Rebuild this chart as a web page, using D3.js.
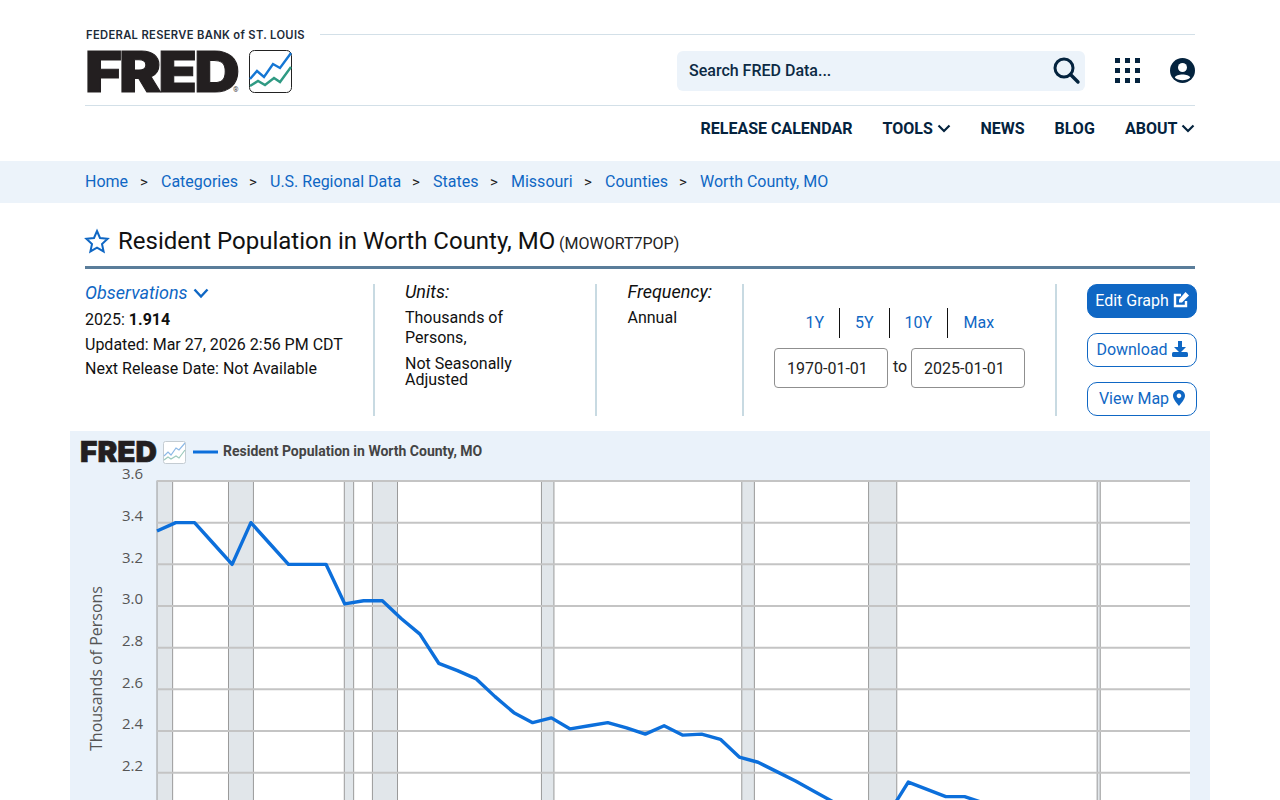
<!DOCTYPE html>
<html>
<head>
<meta charset="utf-8">
<title>Resident Population in Worth County, MO (MOWORT7POP) | FRED</title>
<script src="https://cdn.jsdelivr.net/npm/d3@7"></script>
<style>
    html, body { margin: 0; padding: 0; width: 1280px; height: 800px; overflow: hidden; background: #fff; }
    body { font-family: Roboto, sans-serif; font-size: 16px; color: #111; position: relative; }
    .a { position: absolute; white-space: nowrap; line-height: 20px; }
    .link { color: #0f67c4; }
    .nav { color: #04233e; font-weight: 700; top: 119px; }
    .rule { position: absolute; background: #d3e0e8; height: 1px; }
    .vbar { position: absolute; width: 2px; top: 284px; height: 132px; background: #c8dae2; }
    .crumb { top: 172px; }
    .sep { top: 172px; font-size: 15px; color: #222; }
    .datebox { position: absolute; top: 348px; height: 38px; width: 100px; padding-left: 12px; border: 1px solid #8f8f8f; border-radius: 4px; line-height: 40px; color: #222; }
    .btn { position: absolute; left: 1087px; width: 108px; border: 1px solid #0f67c4; border-radius: 10px; color: #0f67c4; text-align: center; line-height: 32px; height: 32px; }
    .tick-sep { position: absolute; top: 308px; height: 30px; width: 1px; background: #111; }
    #panel { position: absolute; left: 70px; top: 431px; width: 1140px; height: 460px; background: #eaf2fa; }
    #chart { position: absolute; left: 0; top: 0; }
    svg.icon { position: absolute; overflow: visible; }
</style>
</head>
<body>

<!-- header -->
<div class="a" style="left:86px;top:25px;font-family:Inter,sans-serif;font-size:11.2px;font-weight:600;color:#1d2b38;letter-spacing:.33px">FEDERAL RESERVE BANK of ST. LOUIS</div>
<div class="rule" style="left:320px;top:34px;width:875px"></div>
<div class="a" style="left:85px;top:72px;font-family:Inter,sans-serif;font-size:56px;font-weight:900;color:#231f20;letter-spacing:-2.6px;line-height:0;-webkit-text-stroke:1px #231f20;transform:scaleX(1.13);transform-origin:left center">FRED</div>
<div class="a" style="left:233px;top:80px;font-size:7px;color:#444">®</div>
<svg class="icon" style="left:249px;top:50px" width="44" height="44" viewBox="0 0 44 44">
    <rect x="0.5" y="0.5" width="42" height="42" rx="5" fill="#fff" stroke="#222"/>
    <polyline points="1,29 8,21 15,27 24,14 31,18 42,3" fill="none" stroke="#1476d4" stroke-width="2.4"/>
    <polyline points="1,36 9,31 16,35 25,28 31,32 42,17" fill="none" stroke="#2f9a83" stroke-width="2.4"/>
</svg>
<div class="rule" style="left:85px;top:105px;width:1110px"></div>

<div style="position:absolute;left:677px;top:51px;width:408px;height:40px;background:#ecf3fa;border-radius:6px"></div>
<div class="a" style="left:689px;top:61px;font-weight:500;color:#0c2a44">Search FRED Data...</div>
<svg class="icon" style="left:1053px;top:57px" width="26" height="26" viewBox="0 0 26 26">
    <circle cx="11" cy="11" r="9" fill="none" stroke="#04233e" stroke-width="3"/>
    <line x1="17.5" y1="17.5" x2="25" y2="25" stroke="#04233e" stroke-width="3.4" stroke-linecap="round"/>
</svg>
<svg class="icon" style="left:1115px;top:58px" width="26" height="26" viewBox="0 0 26 26" fill="#04233e">
    <rect x="0" y="0" width="5" height="5"/><rect x="10" y="0" width="5" height="5"/><rect x="20" y="0" width="5" height="5"/>
    <rect x="0" y="10" width="5" height="5"/><rect x="10" y="10" width="5" height="5"/><rect x="20" y="10" width="5" height="5"/>
    <rect x="0" y="20" width="5" height="5"/><rect x="10" y="20" width="5" height="5"/><rect x="20" y="20" width="5" height="5"/>
</svg>
<svg class="icon" style="left:1170px;top:58px" width="25" height="25" viewBox="0 0 25 25">
    <circle cx="12.5" cy="12.5" r="12.5" fill="#04233e"/>
    <circle cx="12.5" cy="9.5" r="4.5" fill="#fff"/>
    <path d="M4.8 19.5 C6 15.5 19 15.5 20.2 19.5 C17 23 8 23 4.8 19.5Z" fill="#fff"/>
</svg>

<div class="a nav" style="left:700.5px">RELEASE CALENDAR</div>
<div class="a nav" style="left:882.5px">TOOLS</div>
<svg class="icon" style="left:937px;top:124px" width="14" height="9" viewBox="0 0 14 9"><polyline points="1.5,1.5 7,7 12.5,1.5" fill="none" stroke="#04233e" stroke-width="2.2"/></svg>
<div class="a nav" style="left:980.5px">NEWS</div>
<div class="a nav" style="left:1054.5px">BLOG</div>
<div class="a nav" style="left:1125px">ABOUT</div>
<svg class="icon" style="left:1181px;top:124px" width="14" height="9" viewBox="0 0 14 9"><polyline points="1.5,1.5 7,7 12.5,1.5" fill="none" stroke="#04233e" stroke-width="2.2"/></svg>

<!-- breadcrumbs -->
<div style="position:absolute;left:0;top:161px;width:1280px;height:42px;background:#ecf3fa"></div>
<div class="a link crumb" style="left:85px">Home</div>
<div class="a sep" style="left:140px">&gt;</div>
<div class="a link crumb" style="left:161px">Categories</div>
<div class="a sep" style="left:249px">&gt;</div>
<div class="a link crumb" style="left:270px">U.S. Regional Data</div>
<div class="a sep" style="left:412px">&gt;</div>
<div class="a link crumb" style="left:433px">States</div>
<div class="a sep" style="left:490px">&gt;</div>
<div class="a link crumb" style="left:511px">Missouri</div>
<div class="a sep" style="left:584px">&gt;</div>
<div class="a link crumb" style="left:605px">Counties</div>
<div class="a sep" style="left:679px">&gt;</div>
<div class="a link crumb" style="left:700px">Worth County, MO</div>

<!-- title -->
<svg class="icon" style="left:85px;top:229px" width="24" height="24" viewBox="0 0 24 24">
    <polygon points="12,2 15,9 22.6,9.8 17,15 18.6,22.4 12,18.6 5.4,22.4 7,15 1.4,9.8 9,9" fill="none" stroke="#0f67c4" stroke-width="2"/>
</svg>
<div class="a" style="left:118px;top:231px;font-size:24px;color:#111">Resident Population in Worth County, MO</div>
<div class="a" style="left:559px;top:234px;font-size:16px;color:#222">(MOWORT7POP)</div>
<div style="position:absolute;left:85px;top:266px;width:1110px;height:3px;background:#5a7d9a"></div>

<!-- notes -->
<div class="a link" style="left:85px;top:283px;font-size:18px;font-style:italic">Observations</div>
<svg class="icon" style="left:193px;top:288px" width="16" height="11" viewBox="0 0 16 11"><polyline points="1.5,1.5 8,8.5 14.5,1.5" fill="none" stroke="#0f67c4" stroke-width="2.4"/></svg>
<div class="a" style="left:85px;top:310px">2025: <b>1.914</b></div>
<div class="a" style="left:85px;top:335px">Updated: Mar 27, 2026 2:56 PM CDT</div>
<div class="a" style="left:85px;top:359px">Next Release Date: Not Available</div>
<div class="vbar" style="left:373px"></div>

<div class="a" style="left:405px;top:282px;font-size:18px;font-style:italic">Units:</div>
<div class="a" style="left:405px;top:308px">Thousands of</div>
<div class="a" style="left:405px;top:328px">Persons,</div>
<div class="a" style="left:405px;top:354px">Not Seasonally</div>
<div class="a" style="left:405px;top:370px">Adjusted</div>
<div class="vbar" style="left:595px"></div>

<div class="a" style="left:627.5px;top:282px;font-size:18px;font-style:italic">Frequency:</div>
<div class="a" style="left:627.5px;top:308px">Annual</div>
<div class="vbar" style="left:742px"></div>

<div class="a link" style="left:805.5px;top:313px">1Y</div>
<div class="tick-sep" style="left:839px"></div>
<div class="a link" style="left:855px;top:313px">5Y</div>
<div class="tick-sep" style="left:889px"></div>
<div class="a link" style="left:904.5px;top:313px">10Y</div>
<div class="tick-sep" style="left:947px"></div>
<div class="a link" style="left:963.5px;top:313px">Max</div>
<div class="datebox" style="left:774px">1970-01-01</div>
<div class="a" style="left:893px;top:357px;color:#222">to</div>
<div class="datebox" style="left:911px">2025-01-01</div>
<div class="vbar" style="left:1055px"></div>

<div class="btn" style="top:284px;background:#0f67c4;color:#fff;text-indent:-20px">Edit Graph</div>
<svg class="icon" style="left:1173px;top:291px" width="17" height="17" viewBox="0 0 17 17">
    <path d="M13 10 V15 H2 V4 H8" fill="none" stroke="#fff" stroke-width="2.4"/>
    <path d="M6 8.5 L12.5 1 L16 4.5 L9 11.5 L6 11.5Z" fill="#fff"/>
</svg>
<div class="btn" style="top:333px;text-indent:-20px">Download</div>
<svg class="icon" style="left:1172px;top:341px" width="16" height="16" viewBox="0 0 16 16" fill="#0f67c4">
    <path d="M6 0 H10 V6 H14 L8 12 L2 6 H6Z"/><rect x="0" y="11" width="16" height="5" rx="1.5"/>
</svg>
<div class="btn" style="top:382px;text-indent:-16px">View Map</div>
<svg class="icon" style="left:1173px;top:390px" width="12" height="16" viewBox="0 0 12 16">
    <path fill-rule="evenodd" fill="#0f67c4" d="M6 0 C2.5 0 0 2.5 0 5.8 C0 9 3.5 13 6 16 C8.5 13 12 9 12 5.8 C12 2.5 9.5 0 6 0Z M6 3.6 A2.3 2.3 0 1 1 5.99 3.6Z"/>
</svg>

<!-- graph -->
<div id="panel"><svg id="chart" width="1140" height="460"></svg></div>

<script>
    // Annual observations. Values past 2014 sit below the fold and are estimates.
    const years = [
        1970, 1971, 1972, 1973, 1974, 1975, 1976, 1977, 1978, 1979,
        1980, 1981, 1982, 1983, 1984, 1985, 1986, 1987, 1988, 1989,
        1990, 1991, 1992, 1993, 1994, 1995, 1996, 1997, 1998, 1999,
        2000, 2001, 2002, 2003, 2004, 2005, 2006, 2007, 2008, 2009,
        2010, 2011, 2012, 2013, 2014, 2015, 2016, 2017, 2018, 2019,
        2020, 2021, 2022, 2023, 2024, 2025
    ];
    const population = [
        3.36, 3.40, 3.40, 3.30, 3.20, 3.40, 3.30, 3.20, 3.20, 3.20,
        3.01, 3.025, 3.025, 2.94, 2.865, 2.725, 2.69, 2.65, 2.565, 2.488,
        2.44, 2.463, 2.41, 2.425, 2.44, 2.415, 2.385, 2.425, 2.38, 2.385,
        2.36, 2.275, 2.25, 2.205, 2.16, 2.11, 2.06, 2.03, 2.02, 2.01,
        2.155, 2.12, 2.085, 2.085, 2.055, 2.04, 2.02, 2.00, 1.99, 1.97,
        1.96, 1.96, 1.95, 1.94, 1.93, 1.914
    ];
    const recessionStarts = ['1970-01-01', '1973-11-01', '1980-01-01', '1981-07-01', '1990-07-01', '2001-03-01', '2007-12-01', '2020-02-01'];
    const recessionEnds = ['1970-11-01', '1975-03-01', '1980-07-01', '1982-11-01', '1991-03-01', '2001-11-01', '2009-06-01', '2020-04-01'];
    const yTicks = [3.6, 3.4, 3.2, 3.0, 2.8, 2.6, 2.4, 2.2, 2.0, 1.8];

    const seriesName = 'Resident Population in Worth County, MO';
    const yLabel = 'Thousands of Persons';
    const lineColor = '#0c6fdb';

    // panel sits at 70,431 on the page
    const margin = { top: 50, left: 87, right: 20 };
    const width = 1033;
    const height = 375;

    const svg = d3.select('#chart');

    // Small FRED mark and legend
    svg.append('text')
        .attr('x', 10)
        .attr('y', 31)
        .attr('textLength', 77)
        .attr('lengthAdjust', 'spacingAndGlyphs')
        .style('font-family', 'Inter, sans-serif')
        .style('font-size', '29px')
        .style('font-weight', 900)
        .style('stroke', '#231f20')
        .style('stroke-width', '.6px')
        .attr('fill', '#231f20')
        .text('FRED');

    const mark = svg.append('g').attr('transform', 'translate(93,10)');
    mark.append('rect')
        .attr('x', 0.5).attr('y', 0.5)
        .attr('width', 22).attr('height', 22)
        .attr('rx', 2)
        .attr('fill', '#fff')
        .attr('stroke', '#c4ccd2');
    mark.append('polyline')
        .attr('points', '1,15 5,11 8,14 13,7 16,9 22,2')
        .attr('fill', 'none').attr('stroke', '#8db9e6').attr('stroke-width', 1.2);
    mark.append('polyline')
        .attr('points', '1,19 5,16 8,18 13,15 16,17 22,9')
        .attr('fill', 'none').attr('stroke', '#9ccabd').attr('stroke-width', 1.2);

    svg.append('line')
        .attr('x1', 123).attr('x2', 148)
        .attr('y1', 21).attr('y2', 21)
        .attr('stroke', lineColor)
        .attr('stroke-width', 3);

    svg.append('text')
        .attr('x', 153)
        .attr('y', 25)
        .style('font-family', 'Roboto, sans-serif')
        .style('font-size', '14px')
        .style('font-weight', 700)
        .attr('fill', '#444')
        .text(seriesName);

    const g = svg.append('g').attr('transform', `translate(${margin.left},${margin.top})`);

    // Define scales
    const x = d3.scaleUtc()
        .domain([new Date(Date.UTC(years[0], 0, 1)), new Date(Date.UTC(years[years.length - 1], 0, 1))])
        .range([0, width]);

    const y = d3.scaleLinear()
        .domain([1.8, 3.6])
        .range([height, 0]);

    g.append('rect')
        .attr('width', width)
        .attr('height', height)
        .attr('fill', '#fff');

    // Recession bars, nudged half a pixel to land on the same pixels as the original
    const recessions = recessionStarts.map((s, i) => ({ start: new Date(s), end: new Date(recessionEnds[i]) }));

    g.selectAll('.recession')
        .data(recessions)
        .enter()
        .append('rect')
        .attr('class', 'recession')
        .attr('x', (d) => x(d.start) - (d.start.getUTCFullYear() > 1970 ? 0.5 : 0))
        .attr('y', 0)
        .attr('width', (d) => x(d.end) - x(d.start))
        .attr('height', height)
        .attr('fill', '#e1e6ea')
        .attr('stroke', '#9a9a9a')
        .attr('stroke-width', 1);

    // Y axis with full width grid lines, labels sit above the lines
    const yAxis = g.append('g')
        .call(d3.axisLeft(y).tickValues(yTicks).tickFormat(d3.format('.1f')).tickSize(-width).tickPadding(14).offset(0));

    yAxis.select('.domain').remove();
    yAxis.selectAll('line')
        .attr('stroke', '#c4c4c4')
        .attr('stroke-width', 2);
    yAxis.selectAll('text')
        .attr('y', -6.6)
        .attr('fill', '#555')
        .style('font-family', '"Open Sans", sans-serif')
        .style('font-size', '15px');

    g.append('text')
        .attr('transform', `translate(-55,${height / 2}) rotate(-90)`)
        .attr('text-anchor', 'middle')
        .attr('fill', '#555')
        .style('font-family', '"Open Sans", sans-serif')
        .style('font-size', '16px')
        .text(yLabel);

    // Series line
    const line = d3.line()
        .x((d, i) => x(new Date(Date.UTC(years[i], 0, 1))))
        .y((d) => y(d));

    g.append('path')
        .datum(population)
        .attr('d', line)
        .attr('fill', 'none')
        .attr('stroke', lineColor)
        .attr('stroke-width', 3.4)
        .attr('stroke-linejoin', 'round');
</script>
</body>
</html>
